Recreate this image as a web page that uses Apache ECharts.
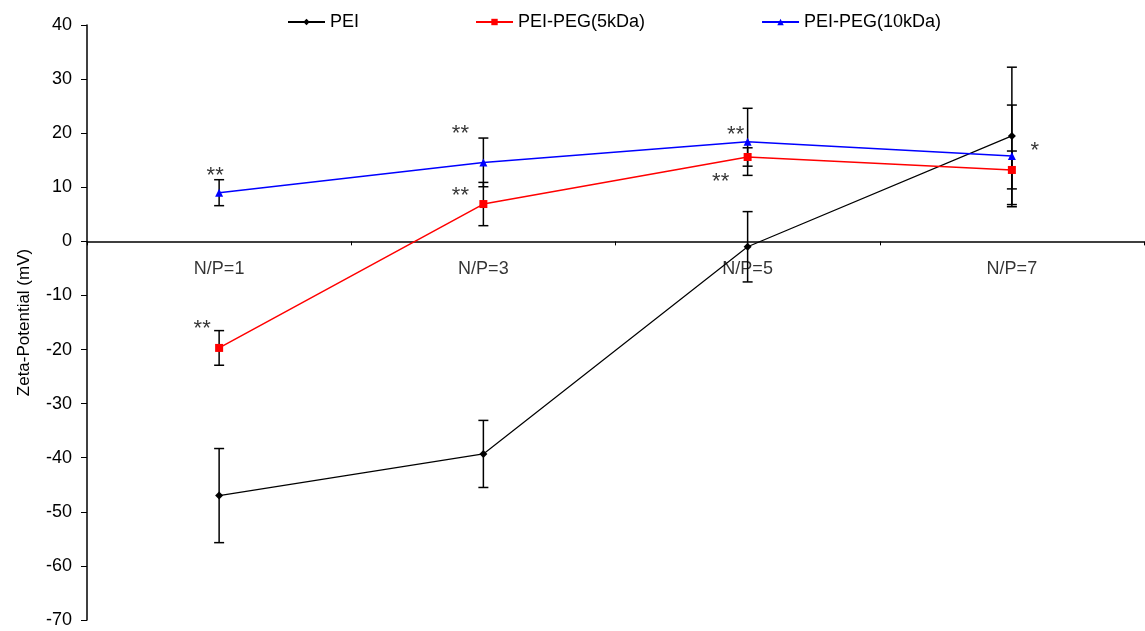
<!DOCTYPE html>
<html>
<head>
  <meta charset="utf-8">
  <title>Zeta potential</title>
  <script src="https://cdn.jsdelivr.net/npm/echarts@6/dist/echarts.min.js"></script>
  <style>
    body { margin: 0; background: #fff; }
    #main { width: 1145px; height: 631px; }
  </style>
</head>
<body>
<div id="main"></div>
<script type="text/javascript">
// data
var cats = ['N/P=1', 'N/P=3', 'N/P=5', 'N/P=7'];
var pei = [-47.0, -39.3, -1.0, 19.5];
var peiErr = [8.7, 6.2, 6.5, 12.7];
var peg5 = [-19.7, 6.9, 15.6, 13.2];
var peg5Err = [3.2, 4.0, 1.7, 3.5];
var peg10 = [9.0, 14.6, 18.4, 15.8];
var peg10Err = [2.4, 4.5, 6.2, 9.4];

// significance marks: category index, value, text
var annCat = [0, 0, 1, 1, 2, 2, 3];
var annVal = [12.8, -15.4, 20.6, 9.1, 20.4, 11.7, 17.5];
var annText = ['**', '**', '**', '**', '**', '**', '*'];
var annDx = [-4, -17, -23, -23, -12, -27, 23];

var font = 'Arial, "Liberation Sans", sans-serif';
var myChart = echarts.init(document.getElementById('main'));

function errData(vals, errs) {
  var out = [];
  for (var i = 0; i < vals.length; i++) {
    out.push([i, vals[i] - errs[i], vals[i] + errs[i]]);
  }
  return out;
}

function renderErr(params, api) {
  var lo = api.coord([api.value(0), api.value(1)]);
  var hi = api.coord([api.value(0), api.value(2)]);
  var w = 5;
  var st = { stroke: '#000', lineWidth: 1.5 };
  return {
    type: 'group',
    children: [
      { type: 'line', shape: { x1: lo[0], y1: lo[1], x2: hi[0], y2: hi[1] }, style: st },
      { type: 'line', shape: { x1: lo[0] - w, y1: lo[1], x2: lo[0] + w, y2: lo[1] }, style: st },
      { type: 'line', shape: { x1: hi[0] - w, y1: hi[1], x2: hi[0] + w, y2: hi[1] }, style: st }
    ]
  };
}

var annData = [];
for (var k = 0; k < annCat.length; k++) {
  annData.push({
    value: [annCat[k], annVal[k]],
    label: { formatter: annText[k], offset: [annDx[k], 4] }
  });
}

// category labels sit just under the zero line
var catLabelData = [];
for (var c = 0; c < cats.length; c++) {
  catLabelData.push({ value: [c, 0], label: { formatter: cats[c] } });
}

function errSeries(vals, errs) {
  return {
    type: 'custom',
    renderItem: renderErr,
    data: errData(vals, errs),
    encode: { x: 0, y: [1, 2] },
    z: 1,
    silent: true
  };
}

myChart.setOption({
  animation: false,
  grid: { left: 87, right: 1, top: 25, bottom: 11, outerBoundsMode: 'none' },
  legend: {
    left: 282, top: 8,
    itemWidth: 37, itemHeight: 8, itemGap: 116,
    textStyle: { fontFamily: font, fontSize: 18, color: '#000' },
    data: ['PEI', 'PEI-PEG(5kDa)', 'PEI-PEG(10kDa)']
  },
  xAxis: {
    type: 'category',
    data: cats,
    axisLine: { onZero: true, lineStyle: { color: '#000', width: 1.5 } },
    axisTick: { show: true, length: 4, lineStyle: { color: '#000' } },
    axisLabel: { show: false },
    splitLine: { show: false }
  },
  yAxis: {
    type: 'value',
    min: -70, max: 40, interval: 10,
    name: 'Zeta-Potential (mV)',
    nameLocation: 'middle',
    nameGap: 54,
    nameTextStyle: { fontFamily: font, fontSize: 17, color: '#000' },
    axisLine: { show: true, lineStyle: { color: '#000', width: 1.5 } },
    axisTick: { show: true, length: 6, lineStyle: { color: '#000' } },
    axisLabel: { margin: 15, fontFamily: font, fontSize: 18, color: '#000' },
    splitLine: { show: false }
  },
  series: [
    errSeries(pei, peiErr),
    errSeries(peg5, peg5Err),
    errSeries(peg10, peg10Err),
    {
      name: 'PEI', type: 'line', data: pei, z: 3,
      symbol: 'diamond', symbolSize: 8,
      itemStyle: { color: '#000' },
      lineStyle: { color: '#000', width: 1.2 }
    },
    {
      name: 'PEI-PEG(5kDa)', type: 'line', data: peg5, z: 3,
      symbol: 'rect', symbolSize: 8,
      itemStyle: { color: '#ff0000' },
      lineStyle: { color: '#ff0000', width: 1.5 }
    },
    {
      name: 'PEI-PEG(10kDa)', type: 'line', data: peg10, z: 3,
      symbol: 'triangle', symbolSize: 8,
      itemStyle: { color: '#0000ff' },
      lineStyle: { color: '#0000ff', width: 1.5 }
    },
    {
      type: 'scatter', data: annData, symbolSize: 0, silent: true, z: 4,
      label: {
        show: true, position: 'inside',
        fontFamily: font, fontSize: 22, color: '#000'
      }
    },
    {
      type: 'scatter', data: catLabelData, symbolSize: 0, silent: true, z: 4,
      label: {
        show: true, position: 'bottom', distance: 19,
        fontFamily: font, fontSize: 18, color: '#000'
      }
    }
  ]
});
</script>
</body>
</html>
